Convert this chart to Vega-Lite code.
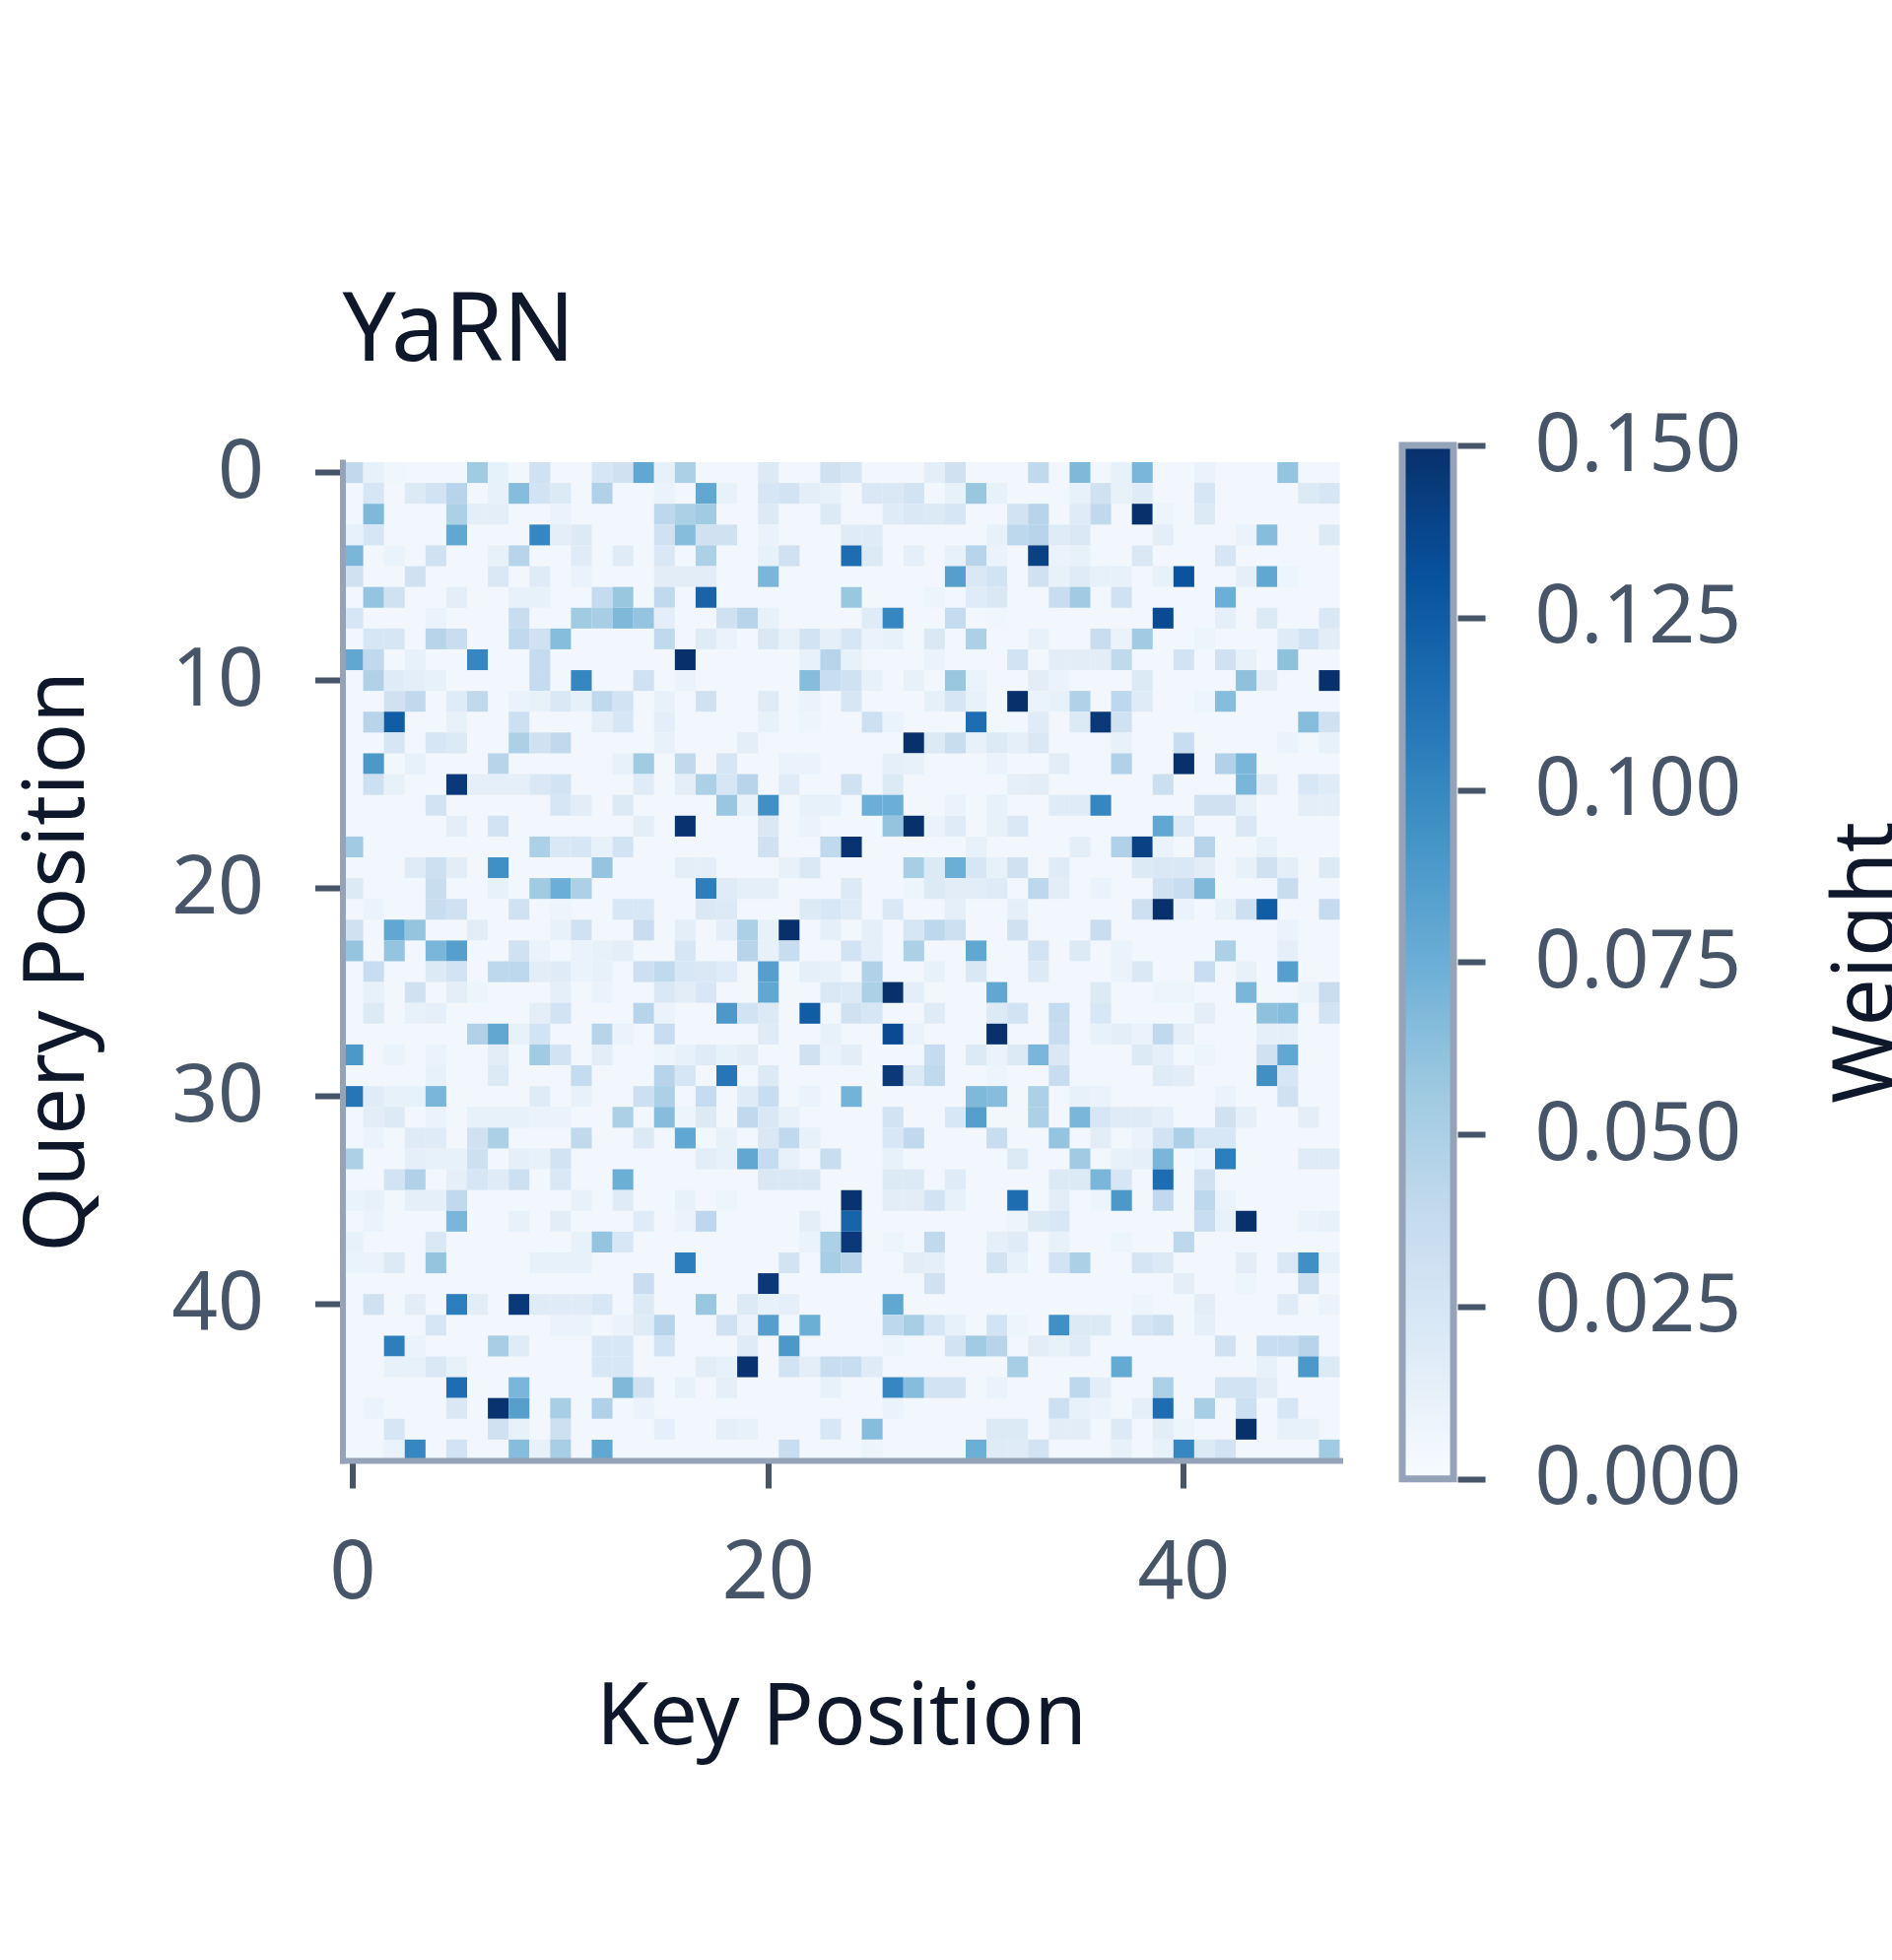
{"$schema":"https://vega.github.io/schema/vega-lite/v6.json","autosize":"none","width":1012,"height":1013,"padding":{"left":347.5,"top":469,"right":560.5,"bottom":507},"background":"white","view":{"fill":"#f2f7fd","stroke":null},"title":{"text":"YaRN","anchor":"start","frame":"group","font":"Noto Sans","fontSize":96,"fontWeight":400,"color":"#0f172a","offset":25},"config":{"font":"Noto Sans"},"datasets":{"bar":[{"a":0,"b":1,"lo":0,"hi":0.15}],"cells":[
{"x":0,"y":0,"w":0.04},{"x":1,"y":0,"w":0.012},{"x":2,"y":0,"w":0.006},{"x":6,"y":0,"w":0.055},{"x":7,"y":0,"w":0.012},{"x":9,"y":0,"w":0.03},{"x":12,"y":0,"w":0.025},{"x":13,"y":0,"w":0.03},{"x":14,"y":0,"w":0.08},{"x":15,"y":0,"w":0.012},{"x":16,"y":0,"w":0.05},{"x":20,"y":0,"w":0.02},{"x":23,"y":0,"w":0.03},{"x":24,"y":0,"w":0.025},{"x":28,"y":0,"w":0.015},{"x":29,"y":0,"w":0.03},{"x":33,"y":0,"w":0.04},{"x":35,"y":0,"w":0.068},{"x":37,"y":0,"w":0.012},{"x":38,"y":0,"w":0.07},{"x":41,"y":0,"w":0.01},{"x":45,"y":0,"w":0.06},
{"x":1,"y":1,"w":0.025},{"x":3,"y":1,"w":0.02},{"x":4,"y":1,"w":0.028},{"x":5,"y":1,"w":0.045},{"x":7,"y":1,"w":0.012},{"x":8,"y":1,"w":0.065},{"x":9,"y":1,"w":0.028},{"x":10,"y":1,"w":0.02},{"x":12,"y":1,"w":0.048},{"x":15,"y":1,"w":0.01},{"x":17,"y":1,"w":0.08},{"x":18,"y":1,"w":0.012},{"x":20,"y":1,"w":0.025},{"x":21,"y":1,"w":0.028},{"x":22,"y":1,"w":0.015},{"x":23,"y":1,"w":0.012},{"x":25,"y":1,"w":0.022},{"x":26,"y":1,"w":0.022},{"x":27,"y":1,"w":0.028},{"x":29,"y":1,"w":0.012},{"x":30,"y":1,"w":0.058},{"x":31,"y":1,"w":0.012},{"x":35,"y":1,"w":0.012},{"x":36,"y":1,"w":0.03},{"x":37,"y":1,"w":0.012},{"x":38,"y":1,"w":0.018},{"x":41,"y":1,"w":0.025},{"x":46,"y":1,"w":0.02},{"x":47,"y":1,"w":0.025},
{"x":1,"y":2,"w":0.068},{"x":5,"y":2,"w":0.05},{"x":6,"y":2,"w":0.015},{"x":7,"y":2,"w":0.015},{"x":10,"y":2,"w":0.01},{"x":15,"y":2,"w":0.042},{"x":16,"y":2,"w":0.05},{"x":17,"y":2,"w":0.055},{"x":20,"y":2,"w":0.02},{"x":23,"y":2,"w":0.02},{"x":26,"y":2,"w":0.018},{"x":27,"y":2,"w":0.022},{"x":28,"y":2,"w":0.02},{"x":29,"y":2,"w":0.025},{"x":32,"y":2,"w":0.028},{"x":33,"y":2,"w":0.045},{"x":35,"y":2,"w":0.018},{"x":36,"y":2,"w":0.04},{"x":38,"y":2,"w":0.15},{"x":39,"y":2,"w":0.008},{"x":41,"y":2,"w":0.02},
{"x":0,"y":3,"w":0.012},{"x":1,"y":3,"w":0.025},{"x":5,"y":3,"w":0.08},{"x":9,"y":3,"w":0.1},{"x":10,"y":3,"w":0.015},{"x":11,"y":3,"w":0.02},{"x":15,"y":3,"w":0.03},{"x":16,"y":3,"w":0.065},{"x":17,"y":3,"w":0.03},{"x":18,"y":3,"w":0.03},{"x":20,"y":3,"w":0.01},{"x":24,"y":3,"w":0.018},{"x":25,"y":3,"w":0.018},{"x":31,"y":3,"w":0.012},{"x":32,"y":3,"w":0.042},{"x":33,"y":3,"w":0.045},{"x":34,"y":3,"w":0.018},{"x":35,"y":3,"w":0.022},{"x":39,"y":3,"w":0.015},{"x":43,"y":3,"w":0.01},{"x":44,"y":3,"w":0.065},{"x":47,"y":3,"w":0.02},
{"x":0,"y":4,"w":0.07},{"x":2,"y":4,"w":0.01},{"x":4,"y":4,"w":0.03},{"x":7,"y":4,"w":0.012},{"x":8,"y":4,"w":0.045},{"x":11,"y":4,"w":0.018},{"x":13,"y":4,"w":0.018},{"x":15,"y":4,"w":0.022},{"x":17,"y":4,"w":0.05},{"x":20,"y":4,"w":0.012},{"x":21,"y":4,"w":0.03},{"x":24,"y":4,"w":0.115},{"x":25,"y":4,"w":0.02},{"x":27,"y":4,"w":0.014},{"x":29,"y":4,"w":0.012},{"x":30,"y":4,"w":0.045},{"x":31,"y":4,"w":0.01},{"x":33,"y":4,"w":0.14},{"x":34,"y":4,"w":0.01},{"x":35,"y":4,"w":0.012},{"x":38,"y":4,"w":0.022},{"x":42,"y":4,"w":0.025},
{"x":0,"y":5,"w":0.03},{"x":3,"y":5,"w":0.03},{"x":7,"y":5,"w":0.022},{"x":9,"y":5,"w":0.018},{"x":11,"y":5,"w":0.01},{"x":15,"y":5,"w":0.016},{"x":16,"y":5,"w":0.016},{"x":17,"y":5,"w":0.016},{"x":20,"y":5,"w":0.07},{"x":29,"y":5,"w":0.085},{"x":30,"y":5,"w":0.022},{"x":31,"y":5,"w":0.028},{"x":33,"y":5,"w":0.03},{"x":34,"y":5,"w":0.012},{"x":35,"y":5,"w":0.018},{"x":36,"y":5,"w":0.012},{"x":37,"y":5,"w":0.012},{"x":39,"y":5,"w":0.012},{"x":40,"y":5,"w":0.13},{"x":43,"y":5,"w":0.014},{"x":44,"y":5,"w":0.08},{"x":45,"y":5,"w":0.008},
{"x":1,"y":6,"w":0.06},{"x":2,"y":6,"w":0.03},{"x":5,"y":6,"w":0.015},{"x":8,"y":6,"w":0.012},{"x":9,"y":6,"w":0.012},{"x":12,"y":6,"w":0.038},{"x":13,"y":6,"w":0.058},{"x":15,"y":6,"w":0.04},{"x":17,"y":6,"w":0.12},{"x":24,"y":6,"w":0.058},{"x":28,"y":6,"w":0.008},{"x":30,"y":6,"w":0.018},{"x":31,"y":6,"w":0.022},{"x":34,"y":6,"w":0.035},{"x":35,"y":6,"w":0.055},{"x":37,"y":6,"w":0.03},{"x":42,"y":6,"w":0.075},
{"x":0,"y":7,"w":0.025},{"x":4,"y":7,"w":0.01},{"x":8,"y":7,"w":0.035},{"x":11,"y":7,"w":0.055},{"x":12,"y":7,"w":0.052},{"x":13,"y":7,"w":0.068},{"x":14,"y":7,"w":0.06},{"x":15,"y":7,"w":0.015},{"x":18,"y":7,"w":0.03},{"x":19,"y":7,"w":0.045},{"x":20,"y":7,"w":0.012},{"x":25,"y":7,"w":0.018},{"x":26,"y":7,"w":0.1},{"x":29,"y":7,"w":0.038},{"x":31,"y":7,"w":0.006},{"x":39,"y":7,"w":0.135},{"x":42,"y":7,"w":0.014},{"x":44,"y":7,"w":0.02},{"x":47,"y":7,"w":0.022},
{"x":1,"y":8,"w":0.025},{"x":2,"y":8,"w":0.025},{"x":4,"y":8,"w":0.045},{"x":5,"y":8,"w":0.035},{"x":8,"y":8,"w":0.04},{"x":9,"y":8,"w":0.03},{"x":10,"y":8,"w":0.065},{"x":15,"y":8,"w":0.04},{"x":17,"y":8,"w":0.018},{"x":18,"y":8,"w":0.01},{"x":20,"y":8,"w":0.022},{"x":21,"y":8,"w":0.012},{"x":22,"y":8,"w":0.028},{"x":23,"y":8,"w":0.014},{"x":24,"y":8,"w":0.025},{"x":25,"y":8,"w":0.01},{"x":26,"y":8,"w":0.012},{"x":28,"y":8,"w":0.022},{"x":30,"y":8,"w":0.05},{"x":33,"y":8,"w":0.012},{"x":36,"y":8,"w":0.035},{"x":37,"y":8,"w":0.01},{"x":38,"y":8,"w":0.055},{"x":41,"y":8,"w":0.008},{"x":45,"y":8,"w":0.018},{"x":46,"y":8,"w":0.028},{"x":47,"y":8,"w":0.016},
{"x":0,"y":9,"w":0.08},{"x":1,"y":9,"w":0.04},{"x":3,"y":9,"w":0.012},{"x":6,"y":9,"w":0.1},{"x":9,"y":9,"w":0.038},{"x":16,"y":9,"w":0.15},{"x":22,"y":9,"w":0.012},{"x":23,"y":9,"w":0.045},{"x":24,"y":9,"w":0.012},{"x":28,"y":9,"w":0.01},{"x":32,"y":9,"w":0.028},{"x":34,"y":9,"w":0.016},{"x":35,"y":9,"w":0.016},{"x":36,"y":9,"w":0.016},{"x":37,"y":9,"w":0.04},{"x":40,"y":9,"w":0.028},{"x":42,"y":9,"w":0.03},{"x":43,"y":9,"w":0.012},{"x":45,"y":9,"w":0.062},
{"x":1,"y":10,"w":0.048},{"x":2,"y":10,"w":0.018},{"x":3,"y":10,"w":0.015},{"x":4,"y":10,"w":0.012},{"x":9,"y":10,"w":0.038},{"x":11,"y":10,"w":0.1},{"x":14,"y":10,"w":0.03},{"x":16,"y":10,"w":0.01},{"x":22,"y":10,"w":0.065},{"x":23,"y":10,"w":0.035},{"x":24,"y":10,"w":0.03},{"x":25,"y":10,"w":0.012},{"x":27,"y":10,"w":0.012},{"x":29,"y":10,"w":0.058},{"x":30,"y":10,"w":0.01},{"x":33,"y":10,"w":0.016},{"x":34,"y":10,"w":0.01},{"x":38,"y":10,"w":0.02},{"x":43,"y":10,"w":0.062},{"x":44,"y":10,"w":0.016},{"x":47,"y":10,"w":0.15},
{"x":2,"y":11,"w":0.03},{"x":3,"y":11,"w":0.04},{"x":5,"y":11,"w":0.018},{"x":6,"y":11,"w":0.04},{"x":8,"y":11,"w":0.01},{"x":9,"y":11,"w":0.012},{"x":10,"y":11,"w":0.022},{"x":11,"y":11,"w":0.013},{"x":12,"y":11,"w":0.04},{"x":13,"y":11,"w":0.028},{"x":15,"y":11,"w":0.012},{"x":17,"y":11,"w":0.03},{"x":20,"y":11,"w":0.018},{"x":22,"y":11,"w":0.01},{"x":24,"y":11,"w":0.025},{"x":28,"y":11,"w":0.013},{"x":29,"y":11,"w":0.025},{"x":30,"y":11,"w":0.012},{"x":32,"y":11,"w":0.15},{"x":33,"y":11,"w":0.01},{"x":34,"y":11,"w":0.012},{"x":35,"y":11,"w":0.048},{"x":37,"y":11,"w":0.042},{"x":38,"y":11,"w":0.018},{"x":41,"y":11,"w":0.008},{"x":42,"y":11,"w":0.065},
{"x":1,"y":12,"w":0.045},{"x":2,"y":12,"w":0.125},{"x":5,"y":12,"w":0.012},{"x":8,"y":12,"w":0.032},{"x":12,"y":12,"w":0.015},{"x":13,"y":12,"w":0.025},{"x":15,"y":12,"w":0.015},{"x":20,"y":12,"w":0.012},{"x":22,"y":12,"w":0.008},{"x":25,"y":12,"w":0.032},{"x":26,"y":12,"w":0.01},{"x":30,"y":12,"w":0.115},{"x":33,"y":12,"w":0.018},{"x":35,"y":12,"w":0.02},{"x":36,"y":12,"w":0.145},{"x":37,"y":12,"w":0.03},{"x":46,"y":12,"w":0.065},{"x":47,"y":12,"w":0.03},
{"x":2,"y":13,"w":0.025},{"x":4,"y":13,"w":0.025},{"x":5,"y":13,"w":0.02},{"x":8,"y":13,"w":0.05},{"x":9,"y":13,"w":0.03},{"x":10,"y":13,"w":0.04},{"x":15,"y":13,"w":0.012},{"x":19,"y":13,"w":0.015},{"x":27,"y":13,"w":0.15},{"x":28,"y":13,"w":0.02},{"x":29,"y":13,"w":0.035},{"x":30,"y":13,"w":0.012},{"x":31,"y":13,"w":0.02},{"x":32,"y":13,"w":0.014},{"x":33,"y":13,"w":0.022},{"x":37,"y":13,"w":0.012},{"x":40,"y":13,"w":0.035},{"x":45,"y":13,"w":0.01},{"x":47,"y":13,"w":0.012},
{"x":1,"y":14,"w":0.09},{"x":3,"y":14,"w":0.012},{"x":7,"y":14,"w":0.045},{"x":13,"y":14,"w":0.012},{"x":14,"y":14,"w":0.055},{"x":16,"y":14,"w":0.04},{"x":18,"y":14,"w":0.025},{"x":21,"y":14,"w":0.01},{"x":22,"y":14,"w":0.01},{"x":26,"y":14,"w":0.014},{"x":27,"y":14,"w":0.012},{"x":31,"y":14,"w":0.01},{"x":34,"y":14,"w":0.016},{"x":37,"y":14,"w":0.048},{"x":40,"y":14,"w":0.15},{"x":42,"y":14,"w":0.048},{"x":43,"y":14,"w":0.07},
{"x":1,"y":15,"w":0.032},{"x":2,"y":15,"w":0.012},{"x":5,"y":15,"w":0.145},{"x":6,"y":15,"w":0.014},{"x":7,"y":15,"w":0.014},{"x":8,"y":15,"w":0.014},{"x":9,"y":15,"w":0.022},{"x":10,"y":15,"w":0.028},{"x":14,"y":15,"w":0.018},{"x":16,"y":15,"w":0.015},{"x":17,"y":15,"w":0.05},{"x":18,"y":15,"w":0.025},{"x":19,"y":15,"w":0.045},{"x":21,"y":15,"w":0.018},{"x":24,"y":15,"w":0.03},{"x":26,"y":15,"w":0.02},{"x":32,"y":15,"w":0.014},{"x":33,"y":15,"w":0.016},{"x":39,"y":15,"w":0.033},{"x":43,"y":15,"w":0.07},{"x":44,"y":15,"w":0.018},{"x":46,"y":15,"w":0.024},{"x":47,"y":15,"w":0.018},
{"x":4,"y":16,"w":0.028},{"x":10,"y":16,"w":0.025},{"x":11,"y":16,"w":0.016},{"x":13,"y":16,"w":0.02},{"x":18,"y":16,"w":0.058},{"x":19,"y":16,"w":0.012},{"x":20,"y":16,"w":0.095},{"x":22,"y":16,"w":0.012},{"x":23,"y":16,"w":0.012},{"x":25,"y":16,"w":0.075},{"x":26,"y":16,"w":0.075},{"x":29,"y":16,"w":0.01},{"x":31,"y":16,"w":0.012},{"x":34,"y":16,"w":0.018},{"x":35,"y":16,"w":0.018},{"x":36,"y":16,"w":0.1},{"x":41,"y":16,"w":0.03},{"x":42,"y":16,"w":0.03},{"x":43,"y":16,"w":0.012},{"x":46,"y":16,"w":0.015},{"x":47,"y":16,"w":0.015},
{"x":5,"y":17,"w":0.015},{"x":7,"y":17,"w":0.028},{"x":14,"y":17,"w":0.015},{"x":16,"y":17,"w":0.148},{"x":20,"y":17,"w":0.022},{"x":22,"y":17,"w":0.01},{"x":26,"y":17,"w":0.06},{"x":27,"y":17,"w":0.15},{"x":28,"y":17,"w":0.01},{"x":29,"y":17,"w":0.018},{"x":31,"y":17,"w":0.012},{"x":32,"y":17,"w":0.022},{"x":39,"y":17,"w":0.08},{"x":40,"y":17,"w":0.02},{"x":43,"y":17,"w":0.022},
{"x":0,"y":18,"w":0.055},{"x":9,"y":18,"w":0.05},{"x":10,"y":18,"w":0.022},{"x":11,"y":18,"w":0.025},{"x":12,"y":18,"w":0.012},{"x":13,"y":18,"w":0.028},{"x":20,"y":18,"w":0.03},{"x":23,"y":18,"w":0.04},{"x":24,"y":18,"w":0.148},{"x":30,"y":18,"w":0.012},{"x":35,"y":18,"w":0.015},{"x":37,"y":18,"w":0.048},{"x":38,"y":18,"w":0.14},{"x":39,"y":18,"w":0.01},{"x":41,"y":18,"w":0.045},{"x":44,"y":18,"w":0.012},
{"x":3,"y":19,"w":0.018},{"x":4,"y":19,"w":0.032},{"x":5,"y":19,"w":0.016},{"x":7,"y":19,"w":0.095},{"x":12,"y":19,"w":0.06},{"x":16,"y":19,"w":0.015},{"x":17,"y":19,"w":0.015},{"x":21,"y":19,"w":0.012},{"x":22,"y":19,"w":0.022},{"x":27,"y":19,"w":0.052},{"x":28,"y":19,"w":0.02},{"x":29,"y":19,"w":0.075},{"x":30,"y":19,"w":0.025},{"x":31,"y":19,"w":0.012},{"x":32,"y":19,"w":0.03},{"x":34,"y":19,"w":0.018},{"x":38,"y":19,"w":0.02},{"x":39,"y":19,"w":0.022},{"x":40,"y":19,"w":0.022},{"x":41,"y":19,"w":0.016},{"x":43,"y":19,"w":0.012},{"x":44,"y":19,"w":0.03},{"x":45,"y":19,"w":0.015},{"x":47,"y":19,"w":0.02},
{"x":0,"y":20,"w":0.02},{"x":4,"y":20,"w":0.035},{"x":7,"y":20,"w":0.012},{"x":9,"y":20,"w":0.055},{"x":10,"y":20,"w":0.075},{"x":11,"y":20,"w":0.05},{"x":17,"y":20,"w":0.105},{"x":18,"y":20,"w":0.018},{"x":19,"y":20,"w":0.014},{"x":20,"y":20,"w":0.014},{"x":24,"y":20,"w":0.02},{"x":27,"y":20,"w":0.008},{"x":28,"y":20,"w":0.02},{"x":29,"y":20,"w":0.016},{"x":30,"y":20,"w":0.016},{"x":31,"y":20,"w":0.018},{"x":33,"y":20,"w":0.042},{"x":34,"y":20,"w":0.016},{"x":36,"y":20,"w":0.01},{"x":39,"y":20,"w":0.03},{"x":40,"y":20,"w":0.035},{"x":41,"y":20,"w":0.068},{"x":45,"y":20,"w":0.035},
{"x":1,"y":21,"w":0.01},{"x":4,"y":21,"w":0.035},{"x":5,"y":21,"w":0.03},{"x":8,"y":21,"w":0.03},{"x":10,"y":21,"w":0.008},{"x":13,"y":21,"w":0.024},{"x":14,"y":21,"w":0.024},{"x":17,"y":21,"w":0.022},{"x":18,"y":21,"w":0.02},{"x":22,"y":21,"w":0.02},{"x":23,"y":21,"w":0.024},{"x":24,"y":21,"w":0.018},{"x":26,"y":21,"w":0.022},{"x":29,"y":21,"w":0.014},{"x":32,"y":21,"w":0.014},{"x":38,"y":21,"w":0.032},{"x":39,"y":21,"w":0.15},{"x":40,"y":21,"w":0.01},{"x":42,"y":21,"w":0.012},{"x":43,"y":21,"w":0.032},{"x":44,"y":21,"w":0.125},{"x":47,"y":21,"w":0.038},
{"x":0,"y":22,"w":0.03},{"x":2,"y":22,"w":0.08},{"x":3,"y":22,"w":0.06},{"x":6,"y":22,"w":0.016},{"x":10,"y":22,"w":0.012},{"x":11,"y":22,"w":0.03},{"x":14,"y":22,"w":0.035},{"x":16,"y":22,"w":0.015},{"x":18,"y":22,"w":0.015},{"x":19,"y":22,"w":0.05},{"x":20,"y":22,"w":0.012},{"x":21,"y":22,"w":0.15},{"x":23,"y":22,"w":0.014},{"x":25,"y":22,"w":0.014},{"x":27,"y":22,"w":0.025},{"x":28,"y":22,"w":0.042},{"x":29,"y":22,"w":0.032},{"x":32,"y":22,"w":0.03},{"x":36,"y":22,"w":0.035},{"x":45,"y":22,"w":0.01},
{"x":0,"y":23,"w":0.06},{"x":2,"y":23,"w":0.06},{"x":4,"y":23,"w":0.07},{"x":5,"y":23,"w":0.085},{"x":8,"y":23,"w":0.03},{"x":9,"y":23,"w":0.01},{"x":11,"y":23,"w":0.01},{"x":12,"y":23,"w":0.012},{"x":13,"y":23,"w":0.015},{"x":16,"y":23,"w":0.025},{"x":19,"y":23,"w":0.045},{"x":20,"y":23,"w":0.012},{"x":21,"y":23,"w":0.035},{"x":24,"y":23,"w":0.028},{"x":25,"y":23,"w":0.014},{"x":27,"y":23,"w":0.05},{"x":30,"y":23,"w":0.08},{"x":33,"y":23,"w":0.028},{"x":35,"y":23,"w":0.02},{"x":37,"y":23,"w":0.01},{"x":42,"y":23,"w":0.05},{"x":45,"y":23,"w":0.014},
{"x":1,"y":24,"w":0.035},{"x":4,"y":24,"w":0.02},{"x":5,"y":24,"w":0.028},{"x":7,"y":24,"w":0.042},{"x":8,"y":24,"w":0.042},{"x":9,"y":24,"w":0.016},{"x":10,"y":24,"w":0.018},{"x":11,"y":24,"w":0.01},{"x":12,"y":24,"w":0.012},{"x":14,"y":24,"w":0.032},{"x":15,"y":24,"w":0.04},{"x":16,"y":24,"w":0.024},{"x":17,"y":24,"w":0.022},{"x":18,"y":24,"w":0.018},{"x":20,"y":24,"w":0.085},{"x":22,"y":24,"w":0.014},{"x":23,"y":24,"w":0.012},{"x":25,"y":24,"w":0.048},{"x":28,"y":24,"w":0.012},{"x":30,"y":24,"w":0.022},{"x":33,"y":24,"w":0.02},{"x":37,"y":24,"w":0.01},{"x":38,"y":24,"w":0.022},{"x":41,"y":24,"w":0.035},{"x":43,"y":24,"w":0.012},{"x":45,"y":24,"w":0.085},
{"x":1,"y":25,"w":0.012},{"x":3,"y":25,"w":0.03},{"x":5,"y":25,"w":0.015},{"x":6,"y":25,"w":0.008},{"x":10,"y":25,"w":0.014},{"x":12,"y":25,"w":0.01},{"x":15,"y":25,"w":0.022},{"x":16,"y":25,"w":0.016},{"x":17,"y":25,"w":0.024},{"x":20,"y":25,"w":0.08},{"x":23,"y":25,"w":0.022},{"x":24,"y":25,"w":0.02},{"x":25,"y":25,"w":0.05},{"x":26,"y":25,"w":0.15},{"x":27,"y":25,"w":0.015},{"x":31,"y":25,"w":0.08},{"x":36,"y":25,"w":0.02},{"x":39,"y":25,"w":0.008},{"x":40,"y":25,"w":0.008},{"x":43,"y":25,"w":0.07},{"x":46,"y":25,"w":0.01},{"x":47,"y":25,"w":0.035},
{"x":1,"y":26,"w":0.02},{"x":3,"y":26,"w":0.012},{"x":4,"y":26,"w":0.014},{"x":9,"y":26,"w":0.015},{"x":10,"y":26,"w":0.028},{"x":14,"y":26,"w":0.045},{"x":15,"y":26,"w":0.01},{"x":18,"y":26,"w":0.09},{"x":19,"y":26,"w":0.028},{"x":20,"y":26,"w":0.02},{"x":22,"y":26,"w":0.125},{"x":24,"y":26,"w":0.03},{"x":25,"y":26,"w":0.025},{"x":28,"y":26,"w":0.018},{"x":31,"y":26,"w":0.02},{"x":32,"y":26,"w":0.028},{"x":34,"y":26,"w":0.038},{"x":36,"y":26,"w":0.024},{"x":41,"y":26,"w":0.015},{"x":44,"y":26,"w":0.062},{"x":45,"y":26,"w":0.065},{"x":47,"y":26,"w":0.028},
{"x":6,"y":27,"w":0.048},{"x":7,"y":27,"w":0.08},{"x":8,"y":27,"w":0.012},{"x":9,"y":27,"w":0.028},{"x":12,"y":27,"w":0.045},{"x":13,"y":27,"w":0.01},{"x":15,"y":27,"w":0.035},{"x":20,"y":27,"w":0.018},{"x":23,"y":27,"w":0.012},{"x":26,"y":27,"w":0.135},{"x":27,"y":27,"w":0.01},{"x":31,"y":27,"w":0.15},{"x":34,"y":27,"w":0.035},{"x":36,"y":27,"w":0.012},{"x":37,"y":27,"w":0.015},{"x":38,"y":27,"w":0.01},{"x":39,"y":27,"w":0.04},{"x":40,"y":27,"w":0.014},{"x":44,"y":27,"w":0.014},{"x":45,"y":27,"w":0.014},
{"x":0,"y":28,"w":0.09},{"x":2,"y":28,"w":0.01},{"x":4,"y":28,"w":0.01},{"x":7,"y":28,"w":0.016},{"x":9,"y":28,"w":0.055},{"x":10,"y":28,"w":0.028},{"x":12,"y":28,"w":0.016},{"x":15,"y":28,"w":0.008},{"x":16,"y":28,"w":0.012},{"x":17,"y":28,"w":0.018},{"x":18,"y":28,"w":0.012},{"x":19,"y":28,"w":0.016},{"x":22,"y":28,"w":0.03},{"x":23,"y":28,"w":0.01},{"x":24,"y":28,"w":0.016},{"x":28,"y":28,"w":0.038},{"x":30,"y":28,"w":0.02},{"x":31,"y":28,"w":0.01},{"x":32,"y":28,"w":0.02},{"x":33,"y":28,"w":0.07},{"x":34,"y":28,"w":0.022},{"x":38,"y":28,"w":0.02},{"x":39,"y":28,"w":0.014},{"x":41,"y":28,"w":0.008},{"x":44,"y":28,"w":0.03},{"x":45,"y":28,"w":0.08},
{"x":4,"y":29,"w":0.012},{"x":7,"y":29,"w":0.02},{"x":11,"y":29,"w":0.038},{"x":15,"y":29,"w":0.045},{"x":16,"y":29,"w":0.025},{"x":18,"y":29,"w":0.11},{"x":20,"y":29,"w":0.02},{"x":26,"y":29,"w":0.145},{"x":27,"y":29,"w":0.02},{"x":28,"y":29,"w":0.04},{"x":31,"y":29,"w":0.008},{"x":34,"y":29,"w":0.035},{"x":39,"y":29,"w":0.018},{"x":40,"y":29,"w":0.016},{"x":44,"y":29,"w":0.095},{"x":45,"y":29,"w":0.025},
{"x":0,"y":30,"w":0.11},{"x":1,"y":30,"w":0.018},{"x":2,"y":30,"w":0.012},{"x":3,"y":30,"w":0.012},{"x":4,"y":30,"w":0.07},{"x":9,"y":30,"w":0.018},{"x":11,"y":30,"w":0.012},{"x":14,"y":30,"w":0.032},{"x":15,"y":30,"w":0.05},{"x":17,"y":30,"w":0.038},{"x":19,"y":30,"w":0.018},{"x":20,"y":30,"w":0.035},{"x":22,"y":30,"w":0.01},{"x":24,"y":30,"w":0.072},{"x":30,"y":30,"w":0.068},{"x":31,"y":30,"w":0.065},{"x":33,"y":30,"w":0.05},{"x":35,"y":30,"w":0.012},{"x":36,"y":30,"w":0.01},{"x":42,"y":30,"w":0.01},{"x":45,"y":30,"w":0.03},
{"x":1,"y":31,"w":0.016},{"x":2,"y":31,"w":0.02},{"x":4,"y":31,"w":0.01},{"x":6,"y":31,"w":0.012},{"x":7,"y":31,"w":0.012},{"x":8,"y":31,"w":0.012},{"x":9,"y":31,"w":0.01},{"x":10,"y":31,"w":0.01},{"x":13,"y":31,"w":0.05},{"x":15,"y":31,"w":0.065},{"x":16,"y":31,"w":0.008},{"x":17,"y":31,"w":0.02},{"x":19,"y":31,"w":0.04},{"x":20,"y":31,"w":0.022},{"x":21,"y":31,"w":0.012},{"x":26,"y":31,"w":0.028},{"x":29,"y":31,"w":0.024},{"x":30,"y":31,"w":0.085},{"x":33,"y":31,"w":0.05},{"x":35,"y":31,"w":0.07},{"x":36,"y":31,"w":0.025},{"x":37,"y":31,"w":0.018},{"x":38,"y":31,"w":0.018},{"x":39,"y":31,"w":0.014},{"x":42,"y":31,"w":0.03},{"x":43,"y":31,"w":0.014},{"x":46,"y":31,"w":0.015},
{"x":1,"y":32,"w":0.01},{"x":3,"y":32,"w":0.018},{"x":4,"y":32,"w":0.018},{"x":6,"y":32,"w":0.03},{"x":7,"y":32,"w":0.05},{"x":11,"y":32,"w":0.04},{"x":14,"y":32,"w":0.02},{"x":16,"y":32,"w":0.08},{"x":18,"y":32,"w":0.012},{"x":20,"y":32,"w":0.022},{"x":21,"y":32,"w":0.04},{"x":22,"y":32,"w":0.012},{"x":26,"y":32,"w":0.024},{"x":27,"y":32,"w":0.04},{"x":31,"y":32,"w":0.035},{"x":34,"y":32,"w":0.06},{"x":36,"y":32,"w":0.016},{"x":38,"y":32,"w":0.01},{"x":39,"y":32,"w":0.028},{"x":40,"y":32,"w":0.05},{"x":41,"y":32,"w":0.024},{"x":42,"y":32,"w":0.024},
{"x":0,"y":33,"w":0.05},{"x":3,"y":33,"w":0.014},{"x":4,"y":33,"w":0.012},{"x":5,"y":33,"w":0.012},{"x":6,"y":33,"w":0.032},{"x":8,"y":33,"w":0.014},{"x":9,"y":33,"w":0.012},{"x":10,"y":33,"w":0.028},{"x":17,"y":33,"w":0.016},{"x":18,"y":33,"w":0.012},{"x":19,"y":33,"w":0.08},{"x":20,"y":33,"w":0.038},{"x":21,"y":33,"w":0.012},{"x":23,"y":33,"w":0.035},{"x":26,"y":33,"w":0.012},{"x":32,"y":33,"w":0.02},{"x":35,"y":33,"w":0.055},{"x":37,"y":33,"w":0.012},{"x":38,"y":33,"w":0.014},{"x":39,"y":33,"w":0.07},{"x":41,"y":33,"w":0.008},{"x":42,"y":33,"w":0.105},{"x":46,"y":33,"w":0.018},{"x":47,"y":33,"w":0.018},
{"x":2,"y":34,"w":0.028},{"x":3,"y":34,"w":0.048},{"x":5,"y":34,"w":0.014},{"x":6,"y":34,"w":0.025},{"x":7,"y":34,"w":0.018},{"x":8,"y":34,"w":0.032},{"x":10,"y":34,"w":0.022},{"x":13,"y":34,"w":0.075},{"x":20,"y":34,"w":0.022},{"x":21,"y":34,"w":0.022},{"x":22,"y":34,"w":0.022},{"x":26,"y":34,"w":0.02},{"x":27,"y":34,"w":0.02},{"x":29,"y":34,"w":0.018},{"x":34,"y":34,"w":0.02},{"x":35,"y":34,"w":0.02},{"x":36,"y":34,"w":0.07},{"x":37,"y":34,"w":0.025},{"x":39,"y":34,"w":0.115},{"x":41,"y":34,"w":0.03},
{"x":0,"y":35,"w":0.01},{"x":1,"y":35,"w":0.012},{"x":3,"y":35,"w":0.014},{"x":4,"y":35,"w":0.014},{"x":5,"y":35,"w":0.04},{"x":11,"y":35,"w":0.012},{"x":13,"y":35,"w":0.018},{"x":16,"y":35,"w":0.012},{"x":18,"y":35,"w":0.008},{"x":24,"y":35,"w":0.148},{"x":26,"y":35,"w":0.016},{"x":27,"y":35,"w":0.016},{"x":28,"y":35,"w":0.028},{"x":29,"y":35,"w":0.012},{"x":32,"y":35,"w":0.115},{"x":34,"y":35,"w":0.016},{"x":36,"y":35,"w":0.008},{"x":37,"y":35,"w":0.09},{"x":39,"y":35,"w":0.04},{"x":41,"y":35,"w":0.042},{"x":42,"y":35,"w":0.01},
{"x":1,"y":36,"w":0.01},{"x":5,"y":36,"w":0.07},{"x":8,"y":36,"w":0.012},{"x":10,"y":36,"w":0.016},{"x":14,"y":36,"w":0.018},{"x":16,"y":36,"w":0.01},{"x":17,"y":36,"w":0.042},{"x":22,"y":36,"w":0.015},{"x":24,"y":36,"w":0.12},{"x":32,"y":36,"w":0.008},{"x":33,"y":36,"w":0.02},{"x":34,"y":36,"w":0.024},{"x":41,"y":36,"w":0.035},{"x":42,"y":36,"w":0.012},{"x":43,"y":36,"w":0.15},{"x":46,"y":36,"w":0.01},{"x":47,"y":36,"w":0.012},
{"x":0,"y":37,"w":0.012},{"x":4,"y":37,"w":0.022},{"x":11,"y":37,"w":0.012},{"x":12,"y":37,"w":0.06},{"x":13,"y":37,"w":0.024},{"x":22,"y":37,"w":0.01},{"x":23,"y":37,"w":0.05},{"x":24,"y":37,"w":0.145},{"x":26,"y":37,"w":0.008},{"x":28,"y":37,"w":0.04},{"x":31,"y":37,"w":0.014},{"x":32,"y":37,"w":0.018},{"x":34,"y":37,"w":0.012},{"x":37,"y":37,"w":0.008},{"x":40,"y":37,"w":0.042},
{"x":0,"y":38,"w":0.01},{"x":1,"y":38,"w":0.01},{"x":2,"y":38,"w":0.02},{"x":4,"y":38,"w":0.06},{"x":9,"y":38,"w":0.012},{"x":10,"y":38,"w":0.012},{"x":11,"y":38,"w":0.012},{"x":16,"y":38,"w":0.105},{"x":21,"y":38,"w":0.028},{"x":23,"y":38,"w":0.052},{"x":24,"y":38,"w":0.045},{"x":27,"y":38,"w":0.016},{"x":28,"y":38,"w":0.014},{"x":31,"y":38,"w":0.028},{"x":32,"y":38,"w":0.012},{"x":34,"y":38,"w":0.028},{"x":35,"y":38,"w":0.05},{"x":38,"y":38,"w":0.026},{"x":39,"y":38,"w":0.02},{"x":43,"y":38,"w":0.016},{"x":45,"y":38,"w":0.022},{"x":46,"y":38,"w":0.095},{"x":47,"y":38,"w":0.012},
{"x":14,"y":39,"w":0.035},{"x":20,"y":39,"w":0.145},{"x":28,"y":39,"w":0.03},{"x":40,"y":39,"w":0.015},{"x":43,"y":39,"w":0.008},{"x":46,"y":39,"w":0.032},
{"x":1,"y":40,"w":0.03},{"x":3,"y":40,"w":0.016},{"x":5,"y":40,"w":0.105},{"x":6,"y":40,"w":0.016},{"x":8,"y":40,"w":0.145},{"x":9,"y":40,"w":0.018},{"x":10,"y":40,"w":0.018},{"x":11,"y":40,"w":0.018},{"x":12,"y":40,"w":0.024},{"x":14,"y":40,"w":0.02},{"x":17,"y":40,"w":0.058},{"x":19,"y":40,"w":0.02},{"x":20,"y":40,"w":0.012},{"x":21,"y":40,"w":0.014},{"x":26,"y":40,"w":0.08},{"x":38,"y":40,"w":0.008},{"x":41,"y":40,"w":0.016},{"x":45,"y":40,"w":0.018},{"x":47,"y":40,"w":0.01},
{"x":4,"y":41,"w":0.025},{"x":10,"y":41,"w":0.01},{"x":11,"y":41,"w":0.01},{"x":13,"y":41,"w":0.01},{"x":14,"y":41,"w":0.018},{"x":15,"y":41,"w":0.045},{"x":18,"y":41,"w":0.03},{"x":19,"y":41,"w":0.01},{"x":20,"y":41,"w":0.085},{"x":22,"y":41,"w":0.075},{"x":26,"y":41,"w":0.042},{"x":27,"y":41,"w":0.052},{"x":28,"y":41,"w":0.025},{"x":29,"y":41,"w":0.012},{"x":31,"y":41,"w":0.028},{"x":32,"y":41,"w":0.008},{"x":34,"y":41,"w":0.095},{"x":35,"y":41,"w":0.02},{"x":36,"y":41,"w":0.02},{"x":38,"y":41,"w":0.026},{"x":39,"y":41,"w":0.032},{"x":41,"y":41,"w":0.014},
{"x":2,"y":42,"w":0.105},{"x":3,"y":42,"w":0.01},{"x":7,"y":42,"w":0.052},{"x":8,"y":42,"w":0.018},{"x":12,"y":42,"w":0.024},{"x":13,"y":42,"w":0.024},{"x":15,"y":42,"w":0.028},{"x":19,"y":42,"w":0.018},{"x":21,"y":42,"w":0.09},{"x":26,"y":42,"w":0.008},{"x":29,"y":42,"w":0.028},{"x":30,"y":42,"w":0.055},{"x":31,"y":42,"w":0.045},{"x":33,"y":42,"w":0.016},{"x":34,"y":42,"w":0.012},{"x":35,"y":42,"w":0.018},{"x":42,"y":42,"w":0.03},{"x":44,"y":42,"w":0.035},{"x":45,"y":42,"w":0.035},{"x":46,"y":42,"w":0.045},
{"x":2,"y":43,"w":0.012},{"x":3,"y":43,"w":0.012},{"x":4,"y":43,"w":0.022},{"x":5,"y":43,"w":0.012},{"x":12,"y":43,"w":0.024},{"x":13,"y":43,"w":0.024},{"x":17,"y":43,"w":0.016},{"x":18,"y":43,"w":0.012},{"x":19,"y":43,"w":0.148},{"x":21,"y":43,"w":0.028},{"x":22,"y":43,"w":0.015},{"x":23,"y":43,"w":0.035},{"x":24,"y":43,"w":0.035},{"x":25,"y":43,"w":0.018},{"x":32,"y":43,"w":0.052},{"x":37,"y":43,"w":0.078},{"x":44,"y":43,"w":0.012},{"x":46,"y":43,"w":0.09},{"x":47,"y":43,"w":0.02},
{"x":5,"y":44,"w":0.115},{"x":8,"y":44,"w":0.07},{"x":13,"y":44,"w":0.068},{"x":14,"y":44,"w":0.03},{"x":16,"y":44,"w":0.012},{"x":18,"y":44,"w":0.014},{"x":23,"y":44,"w":0.012},{"x":26,"y":44,"w":0.1},{"x":27,"y":44,"w":0.065},{"x":28,"y":44,"w":0.028},{"x":29,"y":44,"w":0.028},{"x":31,"y":44,"w":0.01},{"x":35,"y":44,"w":0.042},{"x":36,"y":44,"w":0.016},{"x":39,"y":44,"w":0.05},{"x":42,"y":44,"w":0.028},{"x":43,"y":44,"w":0.028},{"x":44,"y":44,"w":0.016},
{"x":1,"y":45,"w":0.01},{"x":5,"y":45,"w":0.022},{"x":7,"y":45,"w":0.148},{"x":8,"y":45,"w":0.085},{"x":10,"y":45,"w":0.052},{"x":12,"y":45,"w":0.048},{"x":14,"y":45,"w":0.01},{"x":26,"y":45,"w":0.01},{"x":34,"y":45,"w":0.032},{"x":35,"y":45,"w":0.012},{"x":36,"y":45,"w":0.01},{"x":38,"y":45,"w":0.014},{"x":39,"y":45,"w":0.115},{"x":41,"y":45,"w":0.052},{"x":43,"y":45,"w":0.032},{"x":45,"y":45,"w":0.025},
{"x":2,"y":46,"w":0.025},{"x":7,"y":46,"w":0.03},{"x":8,"y":46,"w":0.012},{"x":10,"y":46,"w":0.032},{"x":15,"y":46,"w":0.014},{"x":18,"y":46,"w":0.014},{"x":19,"y":46,"w":0.012},{"x":23,"y":46,"w":0.024},{"x":25,"y":46,"w":0.065},{"x":31,"y":46,"w":0.02},{"x":32,"y":46,"w":0.02},{"x":34,"y":46,"w":0.016},{"x":35,"y":46,"w":0.016},{"x":37,"y":46,"w":0.02},{"x":39,"y":46,"w":0.016},{"x":40,"y":46,"w":0.008},{"x":43,"y":46,"w":0.15},{"x":45,"y":46,"w":0.012},{"x":46,"y":46,"w":0.012},
{"x":2,"y":47,"w":0.01},{"x":3,"y":47,"w":0.1},{"x":5,"y":47,"w":0.028},{"x":8,"y":47,"w":0.065},{"x":9,"y":47,"w":0.012},{"x":10,"y":47,"w":0.052},{"x":12,"y":47,"w":0.08},{"x":21,"y":47,"w":0.035},{"x":25,"y":47,"w":0.008},{"x":30,"y":47,"w":0.075},{"x":31,"y":47,"w":0.018},{"x":32,"y":47,"w":0.018},{"x":33,"y":47,"w":0.028},{"x":37,"y":47,"w":0.012},{"x":39,"y":47,"w":0.012},{"x":40,"y":47,"w":0.1},{"x":41,"y":47,"w":0.02},{"x":42,"y":47,"w":0.028},{"x":47,"y":47,"w":0.055}
]},"layer":[{"data":{"name":"cells"},"mark":{"type":"rect"},"encoding":{"x":{"field":"x","type":"ordinal","sort":null,"scale":{"domain":[0,1,2,3,4,5,6,7,8,9,10,11,12,13,14,15,16,17,18,19,20,21,22,23,24,25,26,27,28,29,30,31,32,33,34,35,36,37,38,39,40,41,42,43,44,45,46,47],"paddingInner":0,"paddingOuter":0},"axis":{"values":[0,20,40],"title":"Key Position","labelAngle":0,"grid":false,"domainColor":"#94a3b8","domainWidth":6,"domainCap":"square","tickColor":"#475569","tickWidth":6,"tickSize":28,"labelColor":"#475569","labelFontSize":82,"labelFont":"Noto Sans","labelPadding":46,"titleColor":"#0f172a","titleFont":"Noto Sans","titleFontSize":87,"titleFontWeight":400,"titlePadding":63}},"y":{"field":"y","type":"ordinal","sort":null,"scale":{"domain":[0,1,2,3,4,5,6,7,8,9,10,11,12,13,14,15,16,17,18,19,20,21,22,23,24,25,26,27,28,29,30,31,32,33,34,35,36,37,38,39,40,41,42,43,44,45,46,47],"paddingInner":0,"paddingOuter":0},"axis":{"values":[0,10,20,30,40],"title":"Query Position","grid":false,"domainColor":"#94a3b8","domainWidth":6,"domainCap":"square","tickColor":"#475569","tickWidth":6,"tickSize":28,"labelColor":"#475569","labelFontSize":82,"labelFont":"Noto Sans","labelPadding":52,"titleColor":"#0f172a","titleFont":"Noto Sans","titleFontSize":85,"titleFontWeight":400,"titlePadding":71}},"color":{"field":"w","type":"quantitative","legend":null,"scale":{"domain":[0,0.01875,0.0375,0.05625,0.075,0.09375,0.1125,0.13125,0.15],"range":["#f7fbff","#deebf7","#c6dbef","#9ecae1","#6baed6","#4292c6","#2171b5","#08519c","#08306b"]}}}},{"data":{"name":"bar"},"mark":{"type":"rect","stroke":"#94a3b8","strokeWidth":7,"fill":{"gradient":"linear","x1":0,"y1":1,"x2":0,"y2":0,"stops":[{"offset":0,"color":"#f7fbff"},{"offset":0.125,"color":"#deebf7"},{"offset":0.25,"color":"#c6dbef"},{"offset":0.375,"color":"#9ecae1"},{"offset":0.5,"color":"#6baed6"},{"offset":0.625,"color":"#4292c6"},{"offset":0.75,"color":"#2171b5"},{"offset":0.875,"color":"#08519c"},{"offset":1,"color":"#08306b"}]}},"encoding":{"x":{"field":"a","type":"quantitative","axis":null,"scale":{"domain":[0,1],"range":[1075.5,1127.5]}},"x2":{"field":"b"},"y":{"field":"lo","type":"quantitative","scale":{"domain":[0,0.15],"range":[1031.7,-17],"nice":false},"axis":{"orient":"right","offset":119.5,"values":[0,0.025,0.05,0.075,0.1,0.125,0.15],"format":".3f","title":"Weight","titleAngle":-90,"grid":false,"domain":false,"tickColor":"#475569","tickWidth":6,"tickSize":28,"labelColor":"#475569","labelFontSize":82,"labelFont":"Noto Sans","labelLimit":0,"labelPadding":50,"titleColor":"#0f172a","titleFont":"Noto Sans","titleFontSize":86,"titleFontWeight":400,"titlePadding":259}},"y2":{"field":"hi"}}}],"resolve":{"scale":{"x":"independent","y":"independent"},"axis":{"x":"independent","y":"independent"}}}
